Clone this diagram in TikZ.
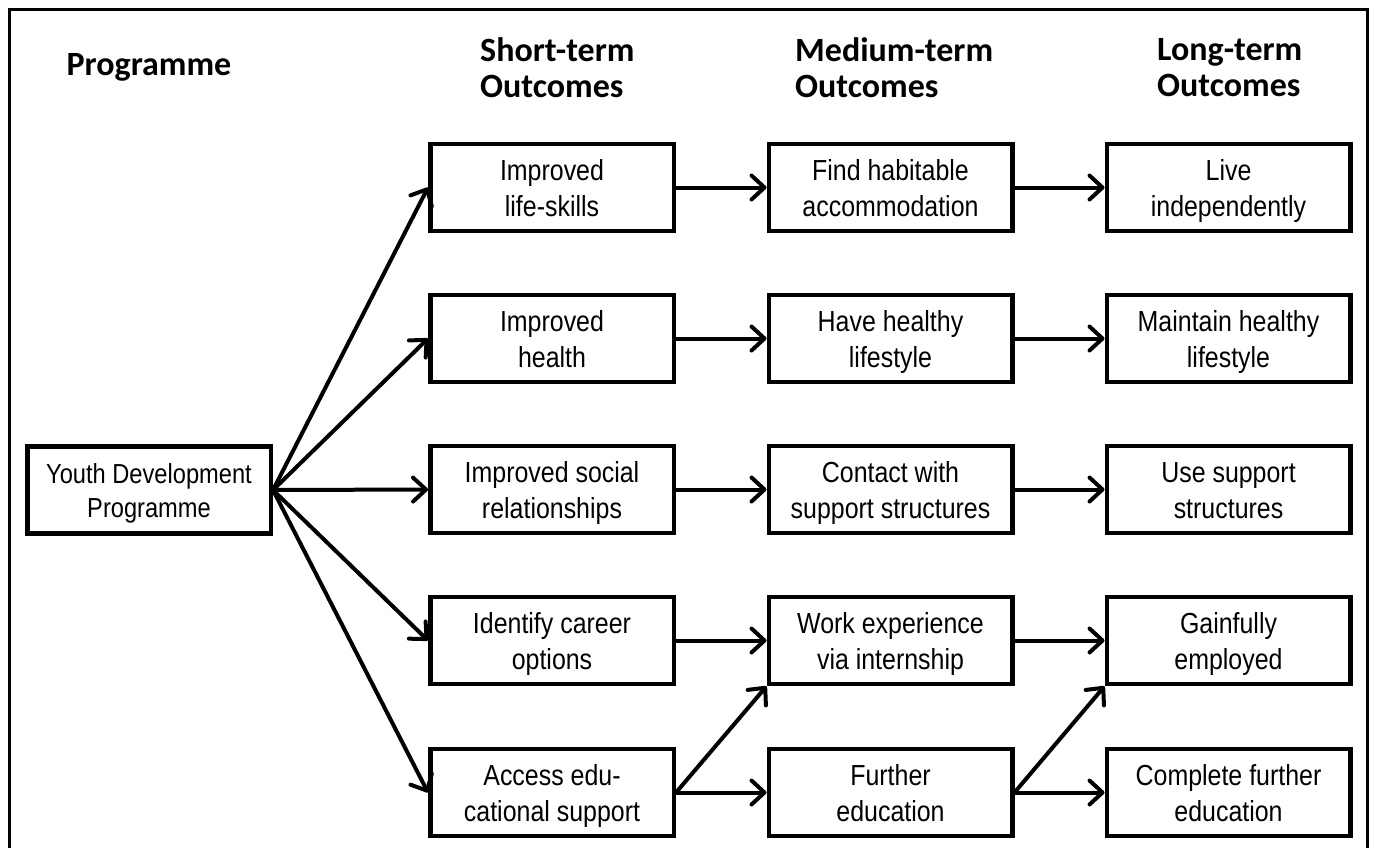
\documentclass[tikz,border=0pt]{standalone}
\usepackage{fontspec}
\newfontfamily\boxfont[FakeStretch=0.86]{Liberation Sans}
\newfontfamily\headfont{Carlito}
\usetikzlibrary{arrows.meta}
\newcommand\boxline[1]{\raisebox{0pt}[21pt][0pt]{#1}}
\begin{document}
\begin{tikzpicture}[x=1pt,y=-1pt,
  box/.style={draw, line width=4.5pt, minimum width=243.5pt, minimum height=87pt,
    inner sep=0pt, align=center, font=\boxfont\fontsize{29}{36}\selectfont},
  head/.style={align=left, inner sep=0pt, font=\headfont\bfseries\fontsize{34}{36}\selectfont},
  arr/.style={line width=4pt, -{Straight Barb[length=13pt,width=24pt,round]}}]
\useasboundingbox (0,0) rectangle (1375,847);
\draw[line width=3pt] (9,880) -- (9,9) -- (1367,9) -- (1367,880);

% headings
\node[head] (hprog) at (149,67) {Programme};
\node[head, anchor=west] (hshort) at (480,68) {Short-term\\Outcomes};
\node[head, anchor=west] (hmed) at (795,68) {Medium-term\\Outcomes};
\node[head, anchor=west] (hlong) at (1157,68) {Long-term\\Outcomes};

% programme
\node[box, font=\boxfont\fontsize{27.5}{34}\selectfont] (youth) at (149,490) {\boxline{Youth Development}\\\boxline{Programme}};

% short-term
\node[box] (s1) at (552,187.5) {\boxline{Improved}\\\boxline{life-skills}};
\node[box] (s2) at (552,338.5) {\boxline{Improved}\\\boxline{health}};
\node[box] (s3) at (552,489.5) {\boxline{Improved social}\\\boxline{relationships}};
\node[box] (s4) at (552,640.5) {\boxline{Identify career}\\\boxline{options}};
\node[box] (s5) at (552,792.5) {\boxline{Access edu-}\\\boxline{cational support}};

% medium-term
\node[box] (m1) at (890.5,187.5) {\boxline{Find habitable}\\\boxline{accommodation}};
\node[box] (m2) at (890.5,338.5) {\boxline{Have healthy}\\\boxline{lifestyle}};
\node[box] (m3) at (890.5,489.5) {\boxline{Contact with}\\\boxline{support structures}};
\node[box] (m4) at (890.5,640.5) {\boxline{Work experience}\\\boxline{via internship}};
\node[box] (m5) at (890.5,792.5) {\boxline{Further}\\\boxline{education}};

% long-term
\node[box] (l1) at (1228.5,187.5) {\boxline{Live}\\\boxline{independently}};
\node[box] (l2) at (1228.5,338.5) {\boxline{Maintain healthy}\\\boxline{lifestyle}};
\node[box] (l3) at (1228.5,489.5) {\boxline{Use support}\\\boxline{structures}};
\node[box] (l4) at (1228.5,640.5) {\boxline{Gainfully}\\\boxline{employed}};
\node[box] (l5) at (1228.5,792.5) {\boxline{Complete further}\\\boxline{education}};

% connectors
\foreach \t in {s1,s2,s3,s4,s5} \draw[arr] (youth.east) -- (\t.west);
\draw[arr] (s1.east) -- (m1.west);
\draw[arr] (s2.east) -- (m2.west);
\draw[arr] (s3.east) -- (m3.west);
\draw[arr] (s4.east) -- (m4.west);
\draw[arr] (s5.east) -- (m4.south west);
\draw[arr] (s5.east) -- (m5.west);
\draw[arr] (m1.east) -- (l1.west);
\draw[arr] (m2.east) -- (l2.west);
\draw[arr] (m3.east) -- (l3.west);
\draw[arr] (m4.east) -- (l4.west);
\draw[arr] (m5.east) -- (l4.south west);
\draw[arr] (m5.east) -- (l5.west);
\end{tikzpicture}
\end{document}
